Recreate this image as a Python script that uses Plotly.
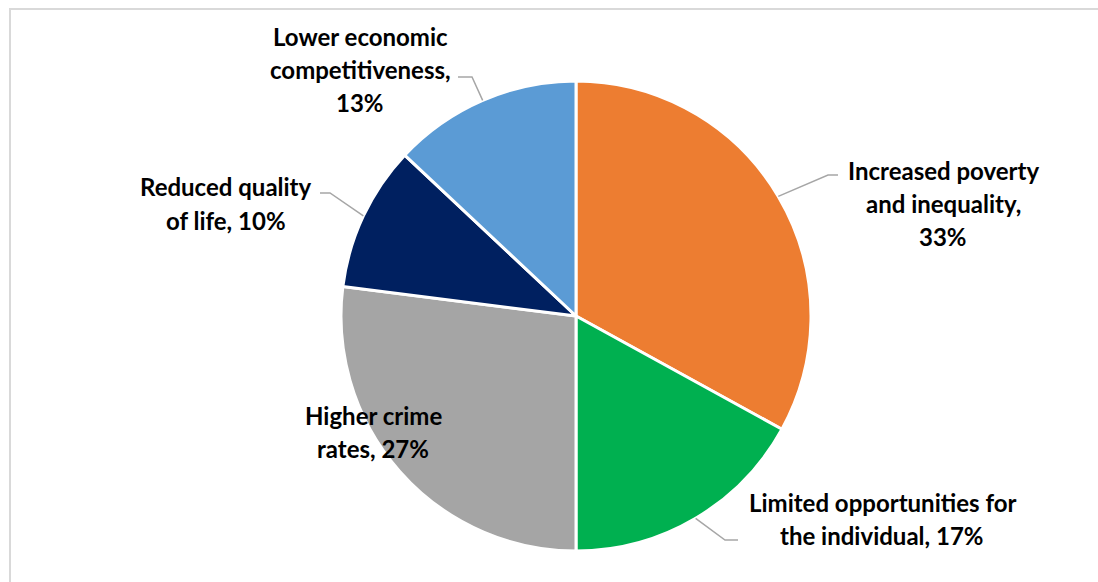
import math
import plotly.graph_objects as go

# ---- data ----
categories = ["Increased poverty and inequality", "Limited opportunities for the individual",
              "Higher crime rates", "Reduced quality of life", "Lower economic competitiveness"]
values = [33, 17, 27, 10, 13]
label_lines = [
    ["Increased poverty", "and inequality,", "33%"],
    ["Limited opportunities for", "the individual, 17%"],
    ["Higher crime", "rates, 27%"],
    ["Reduced quality", "of life, 10%"],
    ["Lower economic", "competitiveness,", "13%"],
]
colors = ["#ED7D31", "#00B050", "#A5A5A5", "#002060", "#5B9BD5"]

# ---- layout (pixels) ----
W, H = 1098, 582
CX, CY, R = 576, 316, 235
label_pos = [(943, 170), (882, 502), (373, 415), (226, 187), (360, 36)]
leader = [((828, 175), (838, 175)), ((725, 540), (738, 540)), None,
          ((330, 193), (320, 193)), ((472, 77), (458, 77))]
LINE_H = 33


def px(x):
    return x / W


def py(y):
    return 1 - y / H


fig = go.Figure(go.Pie(
    labels=categories, values=values, sort=False, direction="clockwise", rotation=0,
    marker=dict(colors=colors, line=dict(color="white", width=3)),
    textinfo="none", hoverinfo="label+percent", showlegend=False,
    domain=dict(x=[px(CX - R), px(CX + R)], y=[py(CY + R), py(CY - R)]),
))

total = sum(values)
cum = 0
shapes = []
annotations = []
for i, v in enumerate(values):
    mid = (cum + v / 2) / total * 2 * math.pi
    cum += v
    ex, ey = CX + R * math.sin(mid), CY - R * math.cos(mid)
    if leader[i]:
        (bx, by), (tx, ty) = leader[i]
        shapes.append(dict(type="path", xref="paper", yref="paper",
                           path=f"M {px(ex)},{py(ey)} L {px(bx)},{py(by)} L {px(tx)},{py(ty)}",
                           line=dict(color="#A6A6A6", width=1.5)))
    lx, ly = label_pos[i]
    for k, t in enumerate(label_lines[i]):
        annotations.append(dict(x=px(lx), y=py(ly + k * LINE_H), xref="paper", yref="paper",
                                text=f"<b>{t}</b>", showarrow=False, xanchor="center", yanchor="middle",
                                font=dict(family="Lato", size=24, color="#000000")))

# chart frame
shapes.append(dict(type="rect", xref="paper", yref="paper", x0=px(10), y0=py(H + 10), x1=px(W + 10), y1=py(9),
                   line=dict(color="#D9D9D9", width=2), fillcolor="rgba(0,0,0,0)"))

fig.update_layout(width=W, height=H, margin=dict(l=0, r=0, t=0, b=0),
                  paper_bgcolor="white", plot_bgcolor="white",
                  shapes=shapes, annotations=annotations)
fig.write_html("out.html")
